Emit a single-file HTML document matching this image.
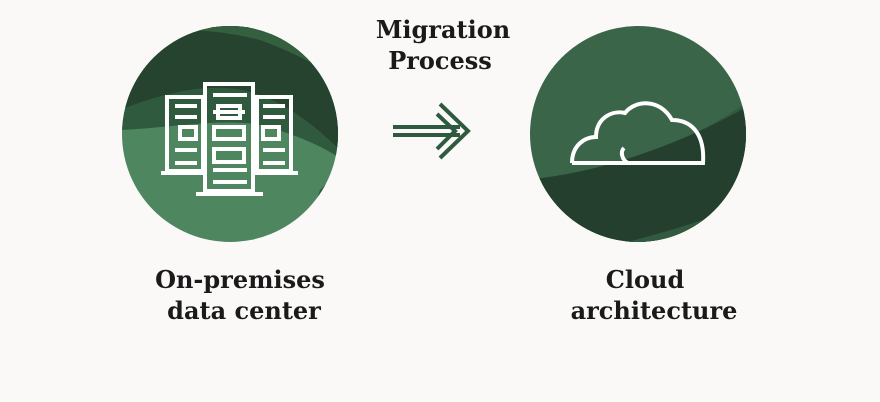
<!DOCTYPE html>
<html><head><style>
html,body{margin:0;padding:0;background:#faf9f7;}
svg{display:block}
text{font-family:"DejaVu Serif",serif;font-weight:bold;fill:#1a1a1a;font-size:24px;text-anchor:middle}
</style></head><body>
<svg width="880" height="402" viewBox="0 0 880 402">
<defs>
<clipPath id="c1"><circle cx="230" cy="134" r="108"/></clipPath>
<clipPath id="c2"><circle cx="638" cy="134" r="108"/></clipPath>
</defs>
<g clip-path="url(#c1)">
<rect x="120" y="20" width="230" height="230" fill="#4e8660"/>
<path d="M120 20 H350 V165 C330 150 300 135 260 125 C220 118 170 128 120 130 Z" fill="#2f5a3e"/>
<path d="M120 20 H350 V160 C330 140 300 110 260 95 C220 80 170 90 120 110 Z" fill="#264330"/>
<path d="M120 20 H350 V95 C330 70 300 55 260 40 C230 32 200 30 180 30 Z" fill="#35603f"/>
<path d="M120 20 H220 C200 30 185 35 170 40 H120 Z" fill="#264330"/>
<path d="M320 190 C330 180 340 170 350 160 V250 H300 Z" fill="#2f5a3e"/>
</g>
<g clip-path="url(#c2)">
<rect x="520" y="20" width="230" height="230" fill="#3a6548"/>
<path d="M520 185 C600 175 680 150 750 100 V250 H520 Z" fill="#2f5a3e"/>
<path d="M520 250 V180 C600 175 690 140 750 105 V250 Z" fill="#253f2e"/>
<path d="M600 250 C650 235 700 225 750 200 V250 Z" fill="#325a40"/>
</g>
<g fill="none" stroke="#fff" stroke-width="4">
<rect x="167" y="97" width="36" height="74"/>
<rect x="257" y="97" width="34" height="74"/>
<rect x="205" y="84" width="48" height="107"/>
<path d="M175 106h22M175 117h22M175 150h22M175 163h22M263 106h22M263 117h22M263 150h22M263 163h22M213 95h34M213 170h34M213 182h34"/>
<rect x="180" y="127" width="16" height="12"/>
<rect x="263" y="127" width="16" height="12"/>
<rect x="218" y="106" width="22" height="12"/>
<rect x="214" y="127" width="30" height="12"/>
<rect x="214" y="149" width="30" height="13"/>
</g>
<g fill="#fff"><rect x="161" y="171" width="42" height="4"/><rect x="255" y="171" width="43" height="4"/><rect x="196" y="192" width="67" height="4"/><rect x="213" y="110" width="32" height="4"/></g>
<path d="M572 163 C572 145 585 137 596 137 C596 118 612 110 625 113 C635 100 660 98 672 120 C690 120 705 132 703 163 H628 C622 160 620 152 624 148 M630 163 H572" fill="none" stroke="#fff" stroke-width="4"/>
<g stroke="#2f5a3f" stroke-width="4" fill="none">
<path d="M393 127H460M393 135H460"/>
<path d="M440 104L468 131L440 158"/>
<path d="M437 114L455 131L437 149"/>
</g>
<text x="443" y="38">Migration</text>
<text x="440" y="69">Process</text>
<text x="240" y="288">On-premises</text>
<text x="244" y="319">data center</text>
<text x="645" y="288">Cloud</text>
<text x="654" y="319">architecture</text>
</svg>
</body></html>
